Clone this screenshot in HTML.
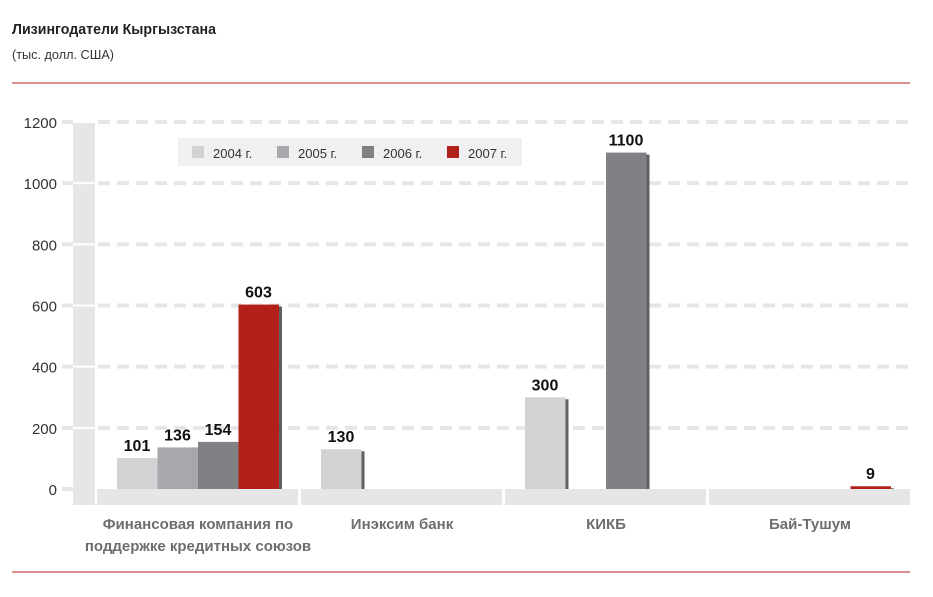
<!DOCTYPE html>
<html><head><meta charset="utf-8"><style>
body{margin:0;background:#fff;font-family:"Liberation Sans",sans-serif;}
svg text{font-family:"Liberation Sans",sans-serif;}
</style></head><body>
<svg width="933" height="592" xmlns="http://www.w3.org/2000/svg">
<text x="12" y="34" font-size="15" font-weight="bold" fill="#222" textLength="204" lengthAdjust="spacingAndGlyphs">Лизингодатели Кыргызстана</text>
<text x="12" y="59" font-size="13" fill="#333" textLength="102" lengthAdjust="spacingAndGlyphs">(тыс. долл. США)</text>
<line x1="12" y1="83" x2="910" y2="83" stroke="#b5221b" stroke-width="1"/>
<line x1="12" y1="572" x2="910" y2="572" stroke="#b5221b" stroke-width="1"/>
<g id="grid"></g><g id="bars"></g><g id="legend"></g>
</svg>
<script>
const categories=["Финансовая компания по|поддержке кредитных союзов","Инэксим банк","КИКБ","Бай-Тушум"];
const seriesNames=["2004 г.","2005 г.","2006 г.","2007 г."];
const s2004=[101,130,300,null];
const s2005=[136,null,null,null];
const s2006=[154,null,1100,null];
const s2007=[603,null,null,9];
const ticks=[0,200,400,600,800,1000,1200];
const colors=["#d1d2d4","#a7a8ab","#808184","#b22119"];
const NS="http://www.w3.org/2000/svg";
function y(v){return 489-v*(367/1200);}
function groupX(i){return 97+i*204;}
function mk(tag,at,parent,txt){const e=document.createElementNS(NS,tag);for(const k in at)e.setAttribute(k,at[k]);if(txt!=null)e.textContent=txt;parent.appendChild(e);return e;}
const grid=document.getElementById('grid'),bars=document.getElementById('bars'),leg=document.getElementById('legend');
let r=mk('rect',{x:73,y:123,width:22,height:382,fill:'#e6e6e7'},grid);


ticks.forEach(t=>{
 const yy=y(t);
 let l=mk('line',{x1:62,x2:73,y1:yy,y2:yy,stroke:'#e6e6e7','stroke-width':4},grid);
 
 
 if(t>0){let g=mk('line',{x1:73,x2:95,y1:yy,y2:yy,stroke:'#fff','stroke-width':2},grid);
 
 
 let d=mk('line',{x1:98,x2:910,y1:yy,y2:yy,stroke:'#e6e6e7','stroke-width':4,'stroke-dasharray':'12 7'},grid);
 
 }
 let tx=mk('text',{x:57,y:yy+6,'font-size':15,'text-anchor':'end',fill:'#333'},grid,String(t));
 
 
});
const all=[s2004,s2005,s2006,s2007];
categories.forEach((c,i)=>{
 const gx=groupX(i);
 let b=mk('rect',{x:gx,y:489,width:i==3?201:201,height:16,fill:'#e6e6e7'},grid);
 
 
 const lines=c.split('|');
 lines.forEach((ln,k)=>{
  let t=mk('text',{x:gx+101,y:529+k*22,'font-size':15,'font-weight':'bold','text-anchor':'middle',fill:'#6d6e71'},grid,ln);
  
  
 });
 all.forEach((s,j)=>{
  const v=s[i]; if(v==null)return;
  const bx=gx+20+j*40.5, by=y(v);
  let sh=mk('rect',{x:bx+40.5,y:by+2,width:3,height:489-by-2,fill:'#3a3a3a',opacity:0.8},bars);
  
  
  let rr=mk('rect',{x:bx,y:by,width:40.5,height:489-by,fill:colors[j]},bars);
  
  
  let vt=mk('text',{x:bx+20,y:by-7,'font-size':16,'font-weight':'bold','text-anchor':'middle',fill:'#111'},bars,String(v));
  
  
 });
});
let lb=mk('rect',{x:178,y:138,width:344,height:28,fill:'#f0f0f0'},leg);


seriesNames.forEach((n,j)=>{
 const lx=192+j*85;
 let sq=mk('rect',{x:lx,y:146,width:12,height:12,fill:colors[j]},leg);
 
 
 let t=mk('text',{x:lx+21,y:158,'font-size':13,fill:'#333'},leg,n);
 
 
});
</script>
</body></html>
